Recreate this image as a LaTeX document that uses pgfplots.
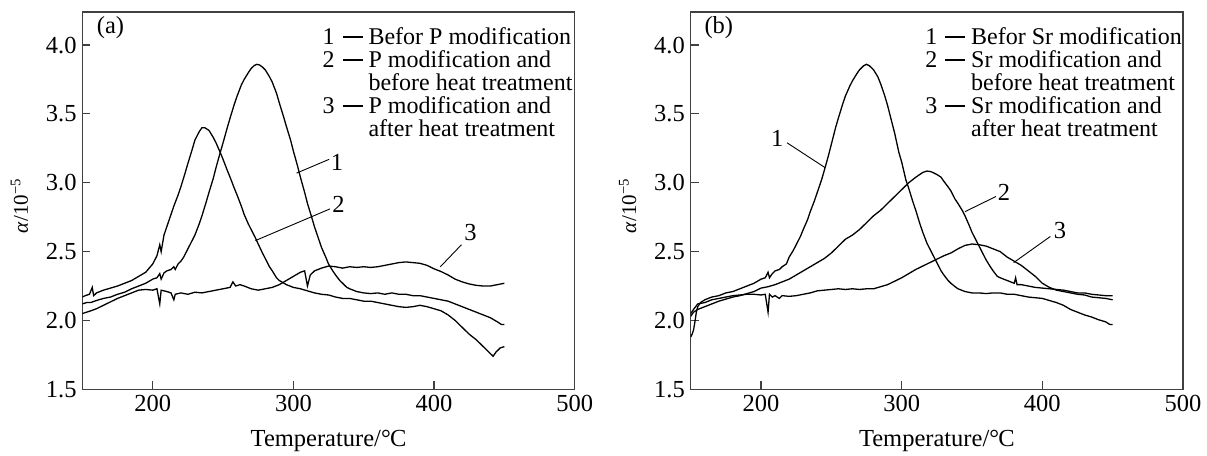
\documentclass[border=0pt]{standalone}
\usepackage{pgfplots}
\pgfplotsset{compat=1.18}
\usepackage{fontspec}
\setmainfont{Liberation Serif}

\pgfplotsset{
  panel/.style={
    width=492.3bp, height=377.3bp, scale only axis,
    xmin=150, xmax=500, ymin=1.5, ymax=4.24,
    xtick={200,300,400,500},
    ytick={1.5,2.0,2.5,3.0,3.5,4.0},
    tick align=inside, xtick pos=bottom, ytick pos=left,
    major tick length=8bp,
    axis line style={black!75, line width=1.2bp},
    every tick/.style={black!75, line width=1.2bp},
    /pgf/number format/assume math mode=true,
    yticklabel style={/pgf/number format/fixed, /pgf/number format/fixed zerofill,
      /pgf/number format/precision=1, xshift=2.5bp},
    xticklabel style={yshift=2bp},
    xlabel={Temperature/°\kern-0.03em C},
    ylabel={\fontsize{21bp}{21bp}\selectfont\textit{α}/10\textsuperscript{−5}},
    xlabel style={at={(axis description cs:0.5,-0.137)}, anchor=center},
    ylabel style={at={(axis description cs:-0.128,0.486)}, anchor=center},
  },
  curve/.style={black, line width=1.3bp},
}
\tikzset{
  ptr/.style={black, line width=0.9bp},
  key/.style={inner sep=0pt, font=\fontsize{24bp}{23bp}\selectfont},
}
% number and dash of a key entry
\newcommand\keynum[1]{#1\hspace{8bp}\rule[0.3em]{20bp}{1.4bp}}

\begin{document}
\fontsize{24.5bp}{24bp}\selectfont
\begin{tikzpicture}

% ---------------- (a) P modification ----------------
\begin{axis}[panel]
% 1: before P modification
\addplot[curve] coordinates {
(150,2.12)(153,2.13)(156,2.13)(160,2.145)(165,2.16)(170,2.17)(175,2.19)(180,2.205)
(185,2.23)(190,2.25)(195,2.27)(200,2.30)(203,2.31)(205,2.34)(206,2.30)(208,2.345)
(210,2.36)(213,2.37)(215,2.39)(216,2.37)(218,2.41)(220,2.43)(222,2.46)(225,2.52)
(228,2.58)(230,2.62)(233,2.70)(235,2.76)(238,2.86)(240,2.93)(243,3.03)(245,3.11)
(248,3.22)(250,3.29)(253,3.40)(255,3.47)(258,3.57)(260,3.63)(263,3.71)(265,3.75)
(268,3.80)(270,3.83)(272,3.85)(274,3.86)(276,3.855)(278,3.84)(280,3.82)(283,3.77)
(285,3.73)(288,3.65)(290,3.58)(293,3.48)(295,3.41)(298,3.31)(300,3.23)(303,3.12)
(305,3.04)(308,2.93)(310,2.85)(313,2.75)(315,2.68)(318,2.59)(320,2.53)(323,2.46)
(325,2.41)(328,2.36)(330,2.33)(333,2.29)(335,2.27)(338,2.24)(340,2.23)(345,2.21)
(350,2.20)(355,2.195)(360,2.20)(365,2.19)(370,2.20)(375,2.19)(380,2.19)(385,2.18)
(390,2.18)(395,2.17)(400,2.16)(405,2.15)(410,2.14)(415,2.12)(420,2.10)(425,2.08)
(430,2.06)(435,2.04)(440,2.02)(445,1.99)(448,1.97)(450,1.97)
};
% 2: P modification, before heat treatment
\addplot[curve] coordinates {
(150,2.17)(152,2.18)(155,2.19)(157,2.24)(158,2.18)(160,2.20)(165,2.22)(170,2.235)
(175,2.25)(180,2.27)(185,2.29)(190,2.32)(195,2.35)(200,2.41)(203,2.47)(205,2.55)
(206,2.50)(208,2.62)(210,2.68)(213,2.77)(215,2.83)(218,2.91)(220,2.97)(223,3.07)
(225,3.14)(228,3.24)(230,3.31)(233,3.37)(235,3.40)(237,3.40)(240,3.38)(243,3.33)
(245,3.29)(248,3.22)(250,3.17)(253,3.09)(255,3.04)(258,2.96)(260,2.91)(263,2.83)
(265,2.77)(268,2.70)(270,2.66)(273,2.60)(275,2.555)(278,2.49)(280,2.45)(283,2.39)
(285,2.36)(288,2.31)(290,2.29)(295,2.26)(300,2.24)(305,2.23)(310,2.215)(315,2.20)
(320,2.19)(325,2.185)(330,2.17)(335,2.16)(340,2.16)(345,2.15)(350,2.14)(355,2.14)
(360,2.13)(365,2.12)(370,2.11)(375,2.10)(380,2.095)(385,2.10)(390,2.11)(395,2.10)
(400,2.085)(405,2.07)(410,2.04)(415,2.00)(420,1.95)(425,1.90)(430,1.86)(435,1.81)
(440,1.76)(442,1.74)(444,1.77)(447,1.80)(450,1.81)
};
% 3: P modification, after heat treatment
\addplot[curve] coordinates {
(150,2.05)(153,2.06)(156,2.07)(160,2.085)(165,2.11)(170,2.135)(175,2.16)(180,2.18)
(185,2.20)(190,2.22)(195,2.225)(200,2.22)(203,2.23)(205,2.12)(206,2.22)(210,2.21)
(213,2.20)(215,2.15)(216,2.19)(220,2.20)(225,2.19)(230,2.205)(235,2.20)(240,2.21)
(245,2.22)(250,2.23)(255,2.24)(257,2.28)(259,2.25)(262,2.26)(265,2.25)(270,2.23)
(275,2.22)(280,2.23)(285,2.24)(290,2.26)(295,2.29)(300,2.32)(305,2.35)(308,2.36)
(310,2.25)(312,2.33)(315,2.36)(320,2.38)(325,2.395)(330,2.39)(335,2.38)(340,2.39)
(345,2.385)(350,2.39)(355,2.385)(360,2.39)(365,2.40)(370,2.41)(375,2.42)(380,2.425)
(385,2.42)(390,2.415)(395,2.40)(400,2.375)(405,2.355)(410,2.33)(415,2.30)(420,2.28)
(425,2.265)(430,2.255)(435,2.25)(440,2.25)(445,2.26)(450,2.27)
};
% curve labels
\draw[ptr] (axis cs:302.3,3.07) -- (axis cs:325.4,3.17);
\node at (axis cs:331,3.15) {1};
\draw[ptr] (axis cs:273,2.58) -- (axis cs:326,2.81);
\node at (axis cs:332,2.84) {2};
\draw[ptr] (axis cs:404.5,2.39) -- (axis cs:419.5,2.55);
\node at (axis cs:426,2.64) {3};
\node at (axis cs:170,4.13) {(a)};
% key
\node[key, anchor=base east] at (axis cs:349.4,4.002) {\keynum{1}};
\node[key, anchor=base west] at (axis cs:353.3,4.002) {Befor P modification};
\node[key, anchor=base east] at (axis cs:349.4,3.835) {\keynum{2}};
\node[key, anchor=base west] at (axis cs:353.3,3.835) {P modification and};
\node[key, anchor=base west] at (axis cs:353.3,3.668) {before heat treatment};
\node[key, anchor=base east] at (axis cs:349.4,3.500) {\keynum{3}};
\node[key, anchor=base west] at (axis cs:353.3,3.500) {P modification and};
\node[key, anchor=base west] at (axis cs:353.3,3.333) {after heat treatment};
\end{axis}

% ---------------- (b) Sr modification ----------------
\begin{axis}[panel, at={(608.3bp,0)}]
% 1: before Sr modification
\addplot[curve] coordinates {
(150,1.88)(151,1.90)(152,1.93)(153,1.99)(154,2.06)(155,2.10)(157,2.13)(160,2.15)
(165,2.17)(170,2.18)(175,2.20)(180,2.21)(185,2.23)(190,2.25)(195,2.27)(200,2.30)
(203,2.31)(205,2.35)(206,2.31)(208,2.34)(210,2.36)(213,2.37)(215,2.39)(218,2.41)
(220,2.46)(223,2.51)(225,2.55)(228,2.61)(230,2.66)(233,2.73)(235,2.79)(238,2.87)
(240,2.93)(243,3.02)(245,3.09)(248,3.20)(250,3.28)(253,3.40)(255,3.47)(258,3.57)
(260,3.63)(263,3.70)(265,3.74)(268,3.79)(270,3.82)(273,3.85)(275,3.86)(277,3.85)
(280,3.82)(283,3.77)(285,3.72)(288,3.63)(290,3.56)(293,3.44)(295,3.36)(298,3.22)
(300,3.15)(303,3.02)(305,2.96)(308,2.86)(310,2.80)(313,2.70)(315,2.64)(318,2.56)
(320,2.52)(323,2.46)(325,2.42)(328,2.36)(330,2.33)(333,2.29)(335,2.27)(338,2.245)
(340,2.23)(345,2.21)(350,2.20)(355,2.20)(360,2.195)(365,2.20)(370,2.20)(375,2.19)
(380,2.19)(385,2.18)(390,2.17)(395,2.165)(400,2.16)(405,2.145)(410,2.13)(415,2.11)
(420,2.08)(425,2.06)(430,2.04)(435,2.025)(440,2.005)(445,1.99)(448,1.97)(450,1.97)
};
% 2: Sr modification, before heat treatment
\addplot[curve] coordinates {
(150,2.03)(152,2.06)(155,2.08)(160,2.10)(165,2.12)(170,2.14)(175,2.155)(180,2.17)
(185,2.18)(190,2.195)(195,2.21)(200,2.235)(205,2.245)(210,2.26)(215,2.28)(220,2.30)
(225,2.33)(230,2.36)(235,2.39)(240,2.42)(245,2.45)(250,2.49)(255,2.54)(260,2.59)
(265,2.62)(270,2.66)(275,2.71)(280,2.76)(285,2.80)(290,2.85)(295,2.90)(300,2.95)
(305,3.00)(310,3.04)(315,3.075)(318,3.085)(321,3.08)(325,3.06)(328,3.04)(330,3.01)
(333,2.97)(335,2.94)(338,2.88)(340,2.85)(343,2.80)(345,2.76)(348,2.69)(350,2.64)
(353,2.58)(355,2.54)(358,2.48)(360,2.44)(363,2.39)(365,2.36)(368,2.32)(370,2.31)
(375,2.29)(380,2.27)(381,2.31)(382,2.26)(385,2.26)(390,2.25)(395,2.24)(400,2.235)
(405,2.23)(410,2.225)(415,2.22)(420,2.21)(425,2.20)(430,2.20)(435,2.19)(440,2.185)
(445,2.18)(450,2.18)
};
% 3: Sr modification, after heat treatment
\addplot[curve] coordinates {
(150,2.05)(152,2.08)(155,2.12)(160,2.13)(165,2.15)(170,2.16)(175,2.17)(180,2.18)
(185,2.185)(190,2.19)(195,2.19)(200,2.185)(203,2.19)(205,2.06)(206,2.19)(208,2.17)
(210,2.18)(213,2.16)(215,2.18)(220,2.175)(225,2.18)(230,2.19)(235,2.20)(240,2.215)
(245,2.22)(250,2.225)(255,2.23)(260,2.225)(265,2.23)(270,2.225)(275,2.23)(280,2.23)
(285,2.245)(290,2.26)(295,2.285)(300,2.31)(305,2.34)(310,2.37)(315,2.395)(320,2.42)
(325,2.445)(330,2.47)(335,2.49)(340,2.52)(345,2.545)(350,2.555)(355,2.55)(360,2.54)
(365,2.52)(370,2.50)(375,2.46)(380,2.43)(385,2.40)(390,2.36)(395,2.32)(400,2.27)
(405,2.24)(410,2.22)(415,2.21)(420,2.20)(425,2.19)(430,2.185)(435,2.17)(440,2.165)
(445,2.16)(450,2.15)
};
% curve labels
\draw[ptr] (axis cs:218.5,3.29) -- (axis cs:245.5,3.11);
\node at (axis cs:211.6,3.32) {1};
\draw[ptr] (axis cs:345,2.79) -- (axis cs:367,2.90);
\node at (axis cs:372.7,2.93) {2};
\draw[ptr] (axis cs:379.6,2.42) -- (axis cs:405.7,2.61);
\node at (axis cs:412.5,2.655) {3};
\node at (axis cs:170,4.13) {(b)};
% key
\node[key, anchor=base east] at (axis cs:345.4,4.002) {\keynum{1}};
\node[key, anchor=base west] at (axis cs:349.3,4.002) {Befor Sr modification};
\node[key, anchor=base east] at (axis cs:345.4,3.835) {\keynum{2}};
\node[key, anchor=base west] at (axis cs:349.3,3.835) {Sr modification and};
\node[key, anchor=base west] at (axis cs:349.3,3.668) {before heat treatment};
\node[key, anchor=base east] at (axis cs:345.4,3.500) {\keynum{3}};
\node[key, anchor=base west] at (axis cs:349.3,3.500) {Sr modification and};
\node[key, anchor=base west] at (axis cs:349.3,3.333) {after heat treatment};
\end{axis}

\pgfresetboundingbox
\path (-82.4bp,-66.7bp) rectangle (1124.6bp,389.3bp);
\end{tikzpicture}
\end{document}
